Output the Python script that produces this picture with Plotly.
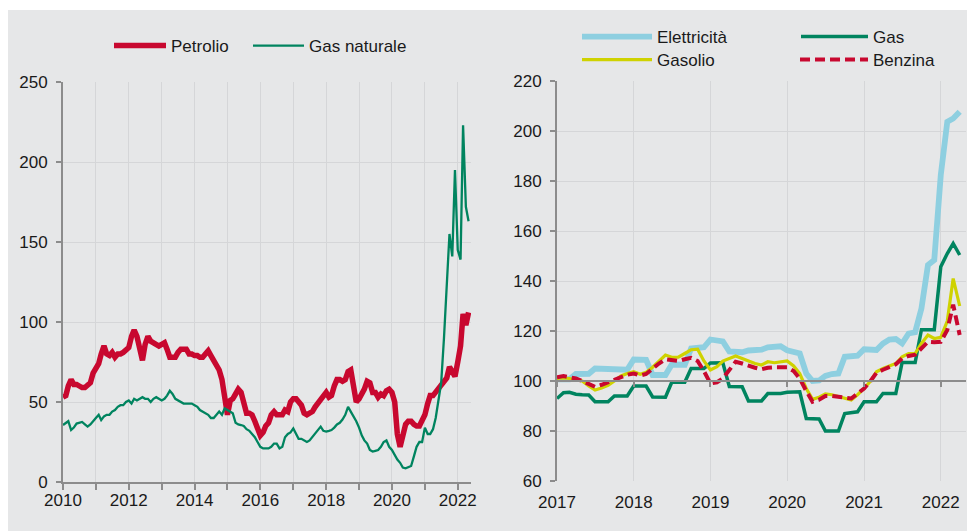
import pandas as pd
import plotly.graph_objects as go

# ---------------- data: left panel (monthly, Jan 2010 - May 2022) ----------------
left_dates = pd.date_range("2010-01-01", periods=149, freq="MS")
petrolio = [
    53, 54, 60, 64, 61, 61, 60, 59, 59, 60, 62, 68,
    71, 74, 80, 85, 80, 79, 81, 78, 80, 80, 81, 82,
    84, 91, 95, 91, 84, 76, 86, 91, 88, 87, 85, 85,
    86, 87, 83, 78, 78, 78, 81, 83, 83, 83, 80, 80,
    79, 79, 78, 78, 80, 82, 79, 76, 74, 70, 64, 50,
    42, 51, 52, 55, 58, 56, 50, 43, 43, 42, 38, 33,
    29, 31, 35, 37, 42, 44, 42, 42, 42, 45, 44, 50,
    52, 52, 50, 48, 43, 42, 43, 44, 47, 49, 52, 54,
    56, 53, 54, 60, 64, 64, 63, 64, 69, 70, 60, 50,
    52, 55, 58, 63, 62, 56, 56, 53, 55, 54, 57, 58,
    56, 50, 30, 22, 29, 36, 38, 38, 36, 35, 35, 38,
    42, 49, 54, 54, 56, 58, 61, 62, 65, 72, 69, 66,
    75, 85, 105, 98, 106,
]
gas_naturale = [
    35.6, 37, 38, 32.5, 34, 36.5, 37, 37.5, 36, 34.6, 36, 37.7,
    40, 42, 38.7, 41, 42, 42, 44, 45, 47, 48, 48, 50,
    51, 49, 52, 51, 52, 53, 52, 52, 50, 52, 53, 52,
    51, 52, 54, 57, 55, 52, 51, 50, 49, 49, 49, 49,
    48, 47, 45, 44, 43, 42, 40, 40, 42, 44, 42, 46,
    45, 44, 43, 37, 36, 35.6, 35, 33, 32, 30, 28, 25,
    22, 21, 21, 21, 22, 24, 24, 21, 22, 28, 30, 31,
    33.5, 30, 27, 27, 26, 25, 26, 28, 30, 32, 34.6, 32,
    31.5, 32, 32.5, 34, 36, 37, 39, 42, 47, 44, 41, 38,
    34, 29, 26, 24, 20, 19, 19.5, 20, 22, 25, 26, 22,
    20, 17, 14, 12, 9, 8.5, 9, 10, 16, 22, 25, 25,
    34, 30, 30, 33, 40, 50, 62, 90, 120, 155, 141, 195,
    145, 139, 223, 172, 163,
]

# ---------------- data: right panel (monthly, Jan 2017 - Apr 2022) ----------------
right_dates = pd.date_range("2017-01-01", periods=64, freq="MS")
elettricita = [
    100.7, 100.7, 100.7, 102.8, 102.8, 102.9, 105, 105, 105, 104.5, 104.5, 104.5,
    108.6, 108.6, 108.5, 102.4, 102.4, 102.4, 106.6, 106.6, 106.5, 113, 113.3, 113.5,
    116.6, 116.2, 115.8, 111.8, 111.6, 111.5, 112.2, 112.4, 112.5, 113.5, 113.7, 113.9,
    112.3, 111.5, 111, 103, 100, 100.2, 102, 102.8, 103, 109.7, 109.9, 110.1,
    112.7, 112.5, 112.4, 115, 116.6, 116.8, 115, 119, 119.5, 129, 146.4, 148.4,
    182.4, 203.7, 205, 207.7,
]
gas = [
    93, 95.3, 95.5, 94.7, 94.5, 94.4, 91.7, 91.7, 91.7, 94, 94, 94,
    98, 98, 98, 93.6, 93.5, 93.5, 99.5, 99.5, 99.5, 105, 105, 105,
    107.2, 107.2, 107.3, 97.8, 97.8, 97.7, 92, 92, 92, 95, 95, 95,
    95.5, 95.6, 95.7, 85, 84.9, 84.8, 80, 80, 80, 87, 87.3, 87.7,
    91.7, 91.7, 91.7, 95, 95, 95, 107.4, 107.4, 107.4, 120.5, 120.5, 120.5,
    145.7, 151, 155, 150.4,
]
gasolio = [
    101, 101.2, 101, 100.5, 100, 98, 96.4, 97.2, 98.3, 100, 102, 103,
    103.7, 102.7, 103.5, 105.5, 108, 110.4, 109.5, 109.5, 111, 112.5, 112.7, 108,
    104.4, 105.7, 108, 109, 110, 109, 108, 107, 106.4, 107.7, 107.3, 107.5,
    108, 106, 103, 97, 92.7, 93.5, 94.8, 94.5, 93.7, 93, 92.4, 94.5,
    97, 100, 103.7, 105, 106, 107, 109.7, 111, 111, 115, 118.4, 117,
    117.5, 124, 141, 130,
]
benzina = [
    101.5, 102, 101.5, 101, 100, 99, 97.7, 98.5, 99.5, 100.5, 101.5, 102.5,
    103, 102.2, 102.8, 105, 107, 108.7, 108.2, 108, 108.7, 109.3, 108, 104,
    99, 99.5, 101, 104.5, 107.7, 107, 106, 105.3, 104.7, 105.3, 105.5, 105.5,
    105.5, 104, 101, 96, 91.7, 92.5, 94, 94, 93.7, 93.3, 93, 95,
    97, 100, 103.3, 104.5, 105.7, 106.7, 109, 110, 110.5, 113, 115.7, 115.5,
    115.7, 120.4, 130.5, 118.4,
]

left_yticks = [0, 50, 100, 150, 200, 250]
right_yticks = [60, 80, 100, 120, 140, 160, 180, 200, 220]

# ---------------- style ----------------
RED = "#c8082f"
GREEN = "#00845f"
BLUE = "#8ecfe0"
YELLOW = "#cfd200"
BG = "#e6e7e8"
GRID = "#d5d6d8"
AXIS = "#8c8c8c"
FONT = "Arial, Liberation Sans, sans-serif"
FS = 17

# the page body has an 8px margin; the figure is sized to fill the rest of the window
OFF = 8
W, H = 975 - OFF, 531 - OFF


def px_x(p):
    return (p - OFF) / W


def px_y(p):
    return 1 - (p - OFF) / H


fig = go.Figure()

fig.add_trace(go.Scatter(x=left_dates, y=petrolio, name="Petrolio", mode="lines",
                         line=dict(color=RED, width=5.5), xaxis="x", yaxis="y", legend="legend"))
fig.add_trace(go.Scatter(x=left_dates, y=gas_naturale, name="Gas naturale", mode="lines",
                         line=dict(color=GREEN, width=2.3), xaxis="x", yaxis="y", legend="legend2"))

fig.add_trace(go.Scatter(x=right_dates, y=elettricita, name="Elettricità", mode="lines",
                         line=dict(color=BLUE, width=5.8), xaxis="x2", yaxis="y2", legend="legend3"))
fig.add_trace(go.Scatter(x=right_dates, y=gas, name="Gas", mode="lines",
                         line=dict(color=GREEN, width=3.5), xaxis="x2", yaxis="y2", legend="legend4"))
fig.add_trace(go.Scatter(x=right_dates, y=gasolio, name="Gasolio", mode="lines",
                         line=dict(color=YELLOW, width=3.2), xaxis="x2", yaxis="y2", legend="legend5"))
fig.add_trace(go.Scatter(x=right_dates, y=benzina, name="Benzina", mode="lines",
                         line=dict(color=RED, width=4, dash="10px,5px"), xaxis="x2", yaxis="y2", legend="legend6"))
# carrier for the baseline axis at 100 on the right panel
fig.add_trace(go.Scatter(x=[], y=[], xaxis="x3", yaxis="y2", showlegend=False, hoverinfo="skip"))

# domains
lx = [px_x(63), px_x(471)]
ly = [px_y(482), px_y(82)]
rx = [px_x(557), px_x(966)]
ry = [px_y(481), px_y(81)]
pos100 = ry[0] + (100 - 60) / (220 - 60) * (ry[1] - ry[0])

tickfont = dict(family=FONT, size=FS, color="#1a1a1a")
legfont = dict(family=FONT, size=FS, color="#1a1a1a")


def leg(xp, yp, iw):
    return dict(orientation="h", x=px_x(xp), y=px_y(yp), xanchor="left", yanchor="middle",
                bgcolor="rgba(0,0,0,0)", itemwidth=iw, font=legfont)


fig.update_layout(
    width=W, height=H,
    margin=dict(l=0, r=0, t=0, b=0, autoexpand=False),
    paper_bgcolor="white",
    plot_bgcolor=BG,
    font=dict(family=FONT, size=FS, color="#1a1a1a"),
    showlegend=True,
    xaxis=dict(
        domain=lx, anchor="y", type="date",
        range=["2010-01-01", "2022-05-28"],
        tick0="2010-01-01", dtick="M24", tickformat="%Y",
        showgrid=True, gridcolor=GRID, gridwidth=1.3,
        showline=True, linecolor=AXIS, linewidth=2,
        ticks="outside", ticklen=6, tickcolor=AXIS, tickwidth=1.5,
        minor=dict(dtick="M12", showgrid=True, gridcolor=GRID, gridwidth=1.3,
                   ticks="outside", ticklen=6, tickcolor=AXIS, tickwidth=1.5),
        tickfont=tickfont, ticklabelstandoff=-4,
    ),
    yaxis=dict(
        domain=ly, anchor="x", range=[0, 250], tickvals=left_yticks,
        showgrid=True, gridcolor=GRID, gridwidth=1.3, zeroline=False,
        showline=True, linecolor=AXIS, linewidth=2,
        ticks="outside", ticklen=5, tickcolor=AXIS, tickwidth=1.5,
        tickfont=tickfont, ticklabelstandoff=5,
    ),
    xaxis2=dict(
        domain=rx, anchor="y2", type="date",
        range=["2017-01-01", "2022-05-01"],
        tick0="2017-01-01", dtick="M12", tickformat="%Y",
        showgrid=True, gridcolor=GRID, gridwidth=1.3,
        showline=False, ticks="",
        tickfont=tickfont, ticklabelstandoff=9,
    ),
    xaxis3=dict(
        overlaying="x2", anchor="free", position=pos100, type="date",
        range=["2017-01-01", "2022-05-01"],
        tick0="2017-01-01", dtick="M12",
        showgrid=False, showline=True, linecolor=AXIS, linewidth=2,
        ticks="outside", ticklen=5, tickcolor=AXIS, tickwidth=1.5,
        showticklabels=False,
    ),
    yaxis2=dict(
        domain=ry, anchor="x2", range=[60, 220], tickvals=right_yticks,
        showgrid=True, gridcolor=GRID, gridwidth=1.3, zeroline=False,
        showline=True, linecolor=AXIS, linewidth=2,
        ticks="outside", ticklen=5, tickcolor=AXIS, tickwidth=1.5,
        tickfont=tickfont, ticklabelstandoff=5,
    ),
    legend=leg(109, 46, 52),
    legend2=leg(248, 46, 51),
    legend3=leg(577, 37, 70),
    legend4=leg(796, 37, 67),
    legend5=leg(577, 60, 70),
    legend6=leg(795, 60, 68),
    shapes=[
        dict(type="rect", xref="paper", yref="paper", x0=0, x1=1, y0=0, y1=px_y(10),
             fillcolor=BG, line=dict(width=0), layer="below"),
    ],
)

fig.write_html("out.html")
